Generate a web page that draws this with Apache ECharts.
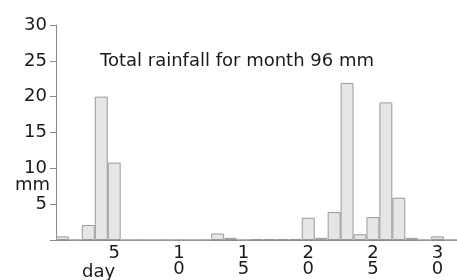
<!DOCTYPE html>
<html>
<head>
<meta charset="utf-8">
<script src="https://cdn.jsdelivr.net/npm/echarts@6/dist/echarts.min.js"></script>
<style>
  html, body { margin: 0; padding: 0; background: #fff; }
  #chart { width: 457px; height: 280px; }
</style>
</head>
<body>
<div id="chart"></div>
<script>
// days of the month (last one runs off the right edge)
const days = ['1','2','3','4','5','6','7','8','9','10','11','12','13','14','15','16',
  '17','18','19','20','21','22','23','24','25','26','27','28','29','30','31']
// daily rainfall in mm
const rainfall = [0.5, 0, 2.1, 20, 10.8, 0, 0, 0, 0, 0, 0, 0, 0.9, 0.3, 0, 0.15,
  0.15, 0.15, 0.15, 3.1, 0.3, 3.9, 21.9, 0.8, 3.2, 19.2, 5.9, 0.3, 0, 0.5, 0]
const yTicks = [0, 5, 10, 15, 20, 25, 30]

const font = 'DejaVu Sans, Liberation Sans, sans-serif'
const axisGray = '#8a8a8a'
const textColor = '#1a1a1a'

const chart = echarts.init(document.getElementById('chart'))

chart.setOption({
  animation: false,
  title: {
    text: 'Total rainfall for month 96 mm',
    left: 95,
    top: 47,
    textStyle: { fontFamily: font, fontSize: 18, fontWeight: 'normal', color: textColor }
  },
  grid: { left: 56, right: -8, top: 25, bottom: 40 },
  xAxis: {
    type: 'category',
    data: days,
    axisLine: { lineStyle: { color: axisGray } },
    axisTick: { interval: 0, length: 4, lineStyle: { color: axisGray } },
    axisLabel: {
      interval: 0,
      margin: 5,
      fontFamily: font,
      fontSize: 18,
      lineHeight: 16,
      color: textColor,
      formatter: (v) => (Number(v) % 5 === 0 ? v.split('').join('\n') : '')
    }
  },
  yAxis: {
    type: 'value',
    min: yTicks[0],
    max: yTicks[yTicks.length - 1],
    interval: 5,
    splitLine: { show: false },
    axisLine: { show: true, lineStyle: { color: axisGray } },
    axisTick: { show: true, length: 6, lineStyle: { color: axisGray } },
    axisLabel: {
      margin: 9,
      fontFamily: font,
      fontSize: 18,
      color: textColor,
      formatter: (v) => (v === 0 ? '' : String(v))
    }
  },
  graphic: [
    {
      type: 'text', left: 15, top: 176,
      style: { text: 'mm', fontFamily: font, fontSize: 18, fill: textColor }
    },
    {
      type: 'text', left: 82, top: 263,
      style: { text: 'day', fontFamily: font, fontSize: 18, fill: textColor }
    }
  ],
  series: [{
    type: 'bar',
    data: rainfall,
    barCategoryGap: '0%',
    itemStyle: { color: '#e6e6e6', borderColor: '#9a9a9a', borderWidth: 1 }
  }]
})
</script>
</body>
</html>
